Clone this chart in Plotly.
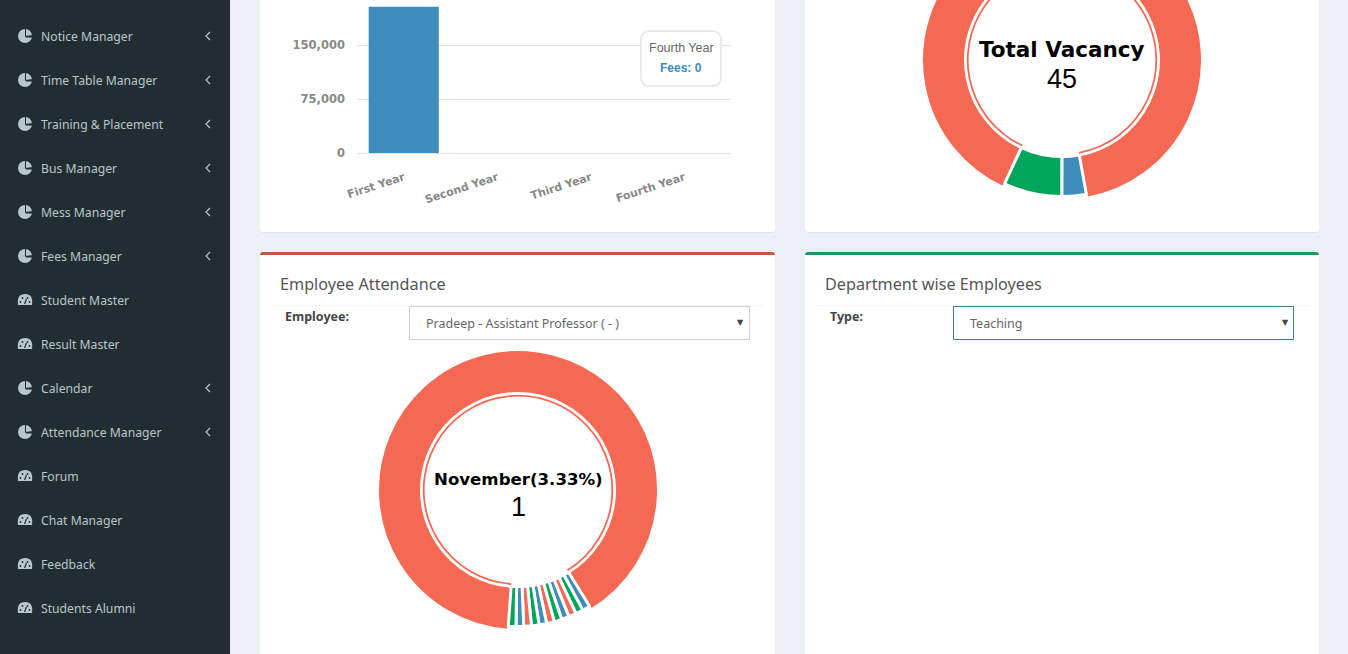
import plotly.graph_objects as go

WIDTH = 1348
SCROLL = 100  # the page is scrolled: the top donut runs past the window edge
HEIGHT = 654 + SCROLL

RED = '#f56954'
GREEN = '#00a65a'
BLUE = '#3c8dbc'
SIDEBAR = '#222d32'
SIDE_TEXT = '#b8c7ce'
UI_FONT = 'Noto Sans'

fee_years = ['First Year', 'Second Year', 'Third Year', 'Fourth Year']
fee_values = [203000, 0, 0, 0]
fee_ticks = [0, 75000, 150000]

vacancy_labels = ['Blue', 'Green', 'Red']
vacancy_values = [1.3, 3.1, 40.6]
vacancy_colors = [BLUE, GREEN, RED]

month_labels = ['Dec', 'Jan', 'Feb', 'Mar', 'Apr', 'May', 'Jun', 'Jul', 'Aug', 'Sep', 'Oct', 'November']
month_values = [1, 1, 1, 1, 1, 1, 1, 1, 1, 1, 1, 100]
month_colors = [BLUE, GREEN, RED] * 4

menu_items = ['Notice Manager', 'Time Table Manager', 'Training & Placement', 'Bus Manager',
              'Mess Manager', 'Fees Manager', 'Student Master', 'Result Master', 'Calendar',
              'Attendance Manager', 'Forum', 'Chat Manager', 'Feedback', 'Students Alumni']
menu_has_children = [True, True, True, True, True, True, False, False, True, True, False, False, False, False]


def domain(cx, cy, r):
    return dict(x=[(cx - r) / WIDTH, (cx + r) / WIDTH],
                y=[(654 - cy - r) / HEIGHT, (654 - cy + r) / HEIGHT])


def add_donut(fig, labels, values, colors, cx, cy, rotation):
    # the selected (biggest) slice sits a little proud of the others, with a thin arc inside
    big = values.index(max(values))
    hidden = 'rgba(0,0,0,0)'
    slices = range(len(values))
    rings = [
        (140, 97 / 140, [RED if i == big else hidden for i in slices], [2 if i == big else 0 for i in slices]),
        (136.5, 96.5 / 136.5, [hidden if i == big else colors[i] for i in slices],
         [0 if i == big else 3 for i in slices]),
        (95.2, 93.4 / 95.2, [RED if i == big else hidden for i in slices], [0 for i in slices]),
    ]
    for r, hole, ring_colors, line_widths in rings:
        fig.add_trace(go.Pie(
            labels=labels, values=values, sort=False, direction='clockwise', rotation=rotation,
            hole=hole, domain=domain(cx, cy, r), textinfo='none', hoverinfo='skip', showlegend=False,
            marker=dict(colors=ring_colors, line=dict(color='white', width=line_widths)),
        ))


def rounded(x0, y0, x1, y1, r):
    return (f'M {x0 + r} {y0} L {x1 - r} {y0} Q {x1} {y0} {x1} {y0 + r} L {x1} {y1 - r} '
            f'Q {x1} {y1} {x1 - r} {y1} L {x0 + r} {y1} Q {x0} {y1} {x0} {y1 - r} '
            f'L {x0} {y0 + r} Q {x0} {y0} {x0 + r} {y0} Z')


def rect(x0, y0, x1, y1, fill, line=None, width=1):
    return dict(type='rect', xref='x', yref='y', x0=x0, y0=y0, x1=x1, y1=y1, fillcolor=fill,
                line=dict(color=line or fill, width=width if line else 0), layer='below')


def path(d, fill=None, line=None, width=0, layer='below'):
    return dict(type='path', xref='x', yref='y', path=d, fillcolor=fill or 'rgba(0,0,0,0)',
                line=dict(color=line or 'rgba(0,0,0,0)', width=width), layer=layer)


def dot(cx, cy, r, fill):
    return dict(type='circle', xref='x', yref='y', x0=cx - r, y0=cy - r, x1=cx + r, y1=cy + r,
                fillcolor=fill, line=dict(width=0), layer='below')


def label(x, y, text, size=13, color='#444', family=UI_FONT, anchor='left', weight='normal'):
    return dict(xref='x', yref='y', x=x, y=y, text=text, showarrow=False, xanchor=anchor, yanchor='middle',
                borderpad=0, borderwidth=0,
                font=dict(size=size, color=color, family=family, weight=weight))


shapes = [rect(0, -SCROLL, 230, 654, SIDEBAR)]
notes = []

for i, item in enumerate(menu_items):
    y = 36 + 44 * i
    notes.append(label(41, y, item, 12.2, SIDE_TEXT))
    if menu_has_children[i]:
        shapes.append(path(f'M 210 {y - 4} L 206 {y} L 210 {y + 4}', line=SIDE_TEXT, width=1.2))
        # pie icon
        shapes.append(dot(25, y, 7, SIDE_TEXT))
        shapes.append(path(f'M 25 {y} L 33 {y - 1} L 33 {y + 1.5} L 26 {y + 1.5} Z', fill=SIDEBAR))
        shapes.append(path(f'M 25 {y} L 25 {y - 8} L 26 {y - 8} L 26 {y} Z', fill=SIDEBAR))
    else:
        # gauge icon
        shapes.append(path(f'M 18 {y + 5} Q 16.5 {y - 6} 25 {y - 6} Q 33.5 {y - 6} 32 {y + 5} Z', fill=SIDE_TEXT))
        for dx, dy in [(-4.5, 2), (-2.5, -2), (2.5, -2), (4.5, 2)]:
            shapes.append(dot(25 + dx, y + dy, 0.9, SIDEBAR))
        shapes.append(path(f'M 24.5 {y + 4} L 26.5 {y - 1}', line=SIDEBAR, width=1.2))

for x0, x1 in [(260, 775), (805, 1319)]:
    shapes.append(path(rounded(x0, -SCROLL, x1, 233, 3), fill='#e1e5ec'))
    shapes.append(path(rounded(x0, -SCROLL, x1, 232, 3), fill='white'))
    shapes.append(path(rounded(x0, 252, x1, 700, 3), fill='white'))
shapes.append(path(rounded(260, 252, 775, 262, 3), fill='#c9553f'))
shapes.append(path(rounded(805, 252, 1319, 262, 3), fill='#149a5e'))
shapes.append(rect(260, 255, 775, 270, 'white'))
shapes.append(rect(805, 255, 1319, 270, 'white'))

shapes.append(rect(272, 305, 763, 306, '#f2f2f2'))
shapes.append(rect(817, 305, 1309, 306, '#f2f2f2'))
shapes.append(rect(409.5, 306.5, 749.5, 339.5, 'white', '#cfd2d6'))
shapes.append(rect(953.5, 306.5, 1293.5, 339.5, 'white', '#3f7f96'))
shapes.append(path(rounded(641, 31, 721, 86, 9), fill='white', line='#e9ebee', width=2, layer='above'))

notes += [
    label(280, 284, 'Employee Attendance', 16.2, '#555'),
    label(825, 284, 'Department wise Employees', 16.2, '#555'),
    label(285, 316, 'Employee:', 12.5, '#444', weight='bold'),
    label(830, 316, 'Type:', 12.5, '#444', weight='bold'),
    label(426, 323, 'Pradeep - Assistant Professor ( - )', 12.5, '#666'),
    label(970, 323, 'Teaching', 12.5, '#666'),
    label(740, 322, '▼', 8, '#444', 'DejaVu Sans', 'center'),
    label(1285, 322, '▼', 8, '#444', 'DejaVu Sans', 'center'),
    label(681, 48, 'Fourth Year', 12.5, '#666', 'Liberation Sans', 'center'),
    label(681, 68, 'Fees: 0', 12, BLUE, 'Liberation Sans', 'center', 'bold'),
    label(1062, 49, 'Total Vacancy', 21.5, '#000', 'DejaVu Sans', 'center', 'bold'),
    label(1062, 79, '45', 27, '#000', 'Liberation Sans', 'center'),
    label(518, 479, 'November(3.33%)', 16.6, '#000', 'DejaVu Sans', 'center', 'bold'),
    label(518, 507, '1', 27, '#000', 'Liberation Sans', 'center'),
]

fig = go.Figure()
fig.add_trace(go.Scatter(x=[0], y=[0], mode='markers', marker=dict(opacity=0), hoverinfo='skip', showlegend=False))
fig.add_trace(go.Bar(x=fee_years, y=fee_values, marker=dict(color=BLUE, line=dict(width=0)),
                     xaxis='x2', yaxis='y2', showlegend=False, name='Fees'))
add_donut(fig, vacancy_labels, vacancy_values, vacancy_colors, 1062, 60, 169.7)
add_donut(fig, month_labels, month_values, month_colors, 518, 490, 148.4)

fig.update_layout(
    width=WIDTH,
    height=HEIGHT,
    margin=dict(l=0, r=0, t=0, b=0),
    paper_bgcolor='#ecf0f6',
    plot_bgcolor='rgba(0,0,0,0)',
    bargap=0.25,
    showlegend=False,
    shapes=shapes,
    annotations=notes,
    # pixel canvas for the page furniture
    xaxis=dict(range=[0, WIDTH], domain=[0, 1], visible=False, fixedrange=True),
    yaxis=dict(range=[654, -SCROLL], domain=[0, 1], visible=False, fixedrange=True),
    xaxis2=dict(domain=[357 / WIDTH, 731 / WIDTH], anchor='y2', showgrid=False, ticks='', tickangle=-18,
                ticklabelstandoff=13, automargin=False, showline=True, linecolor='#e2e2e2', linewidth=1,
                zeroline=False, tickfont=dict(family='DejaVu Sans', size=11, color='#888', weight='bold')),
    yaxis2=dict(domain=[(654 - 153) / HEIGHT, (654 + 9) / HEIGHT], range=[0, 225000], anchor='x2',
                tickvals=fee_ticks, tickformat=',', ticks='', gridcolor='#e2e2e2', gridwidth=1,
                ticklabelstandoff=11, automargin=False, showline=False, zeroline=False,
                tickfont=dict(family='DejaVu Sans', size=11.5, color='#888', weight='bold')),
)

scroll_js = ("var gd = document.getElementById('{plot_id}');"
             f"gd.style.marginTop = '-{SCROLL}px';"
             "document.body.style.margin = '0';"
             "document.documentElement.style.overflow = 'hidden';")

fig.write_html("out.html", post_script=scroll_js)
